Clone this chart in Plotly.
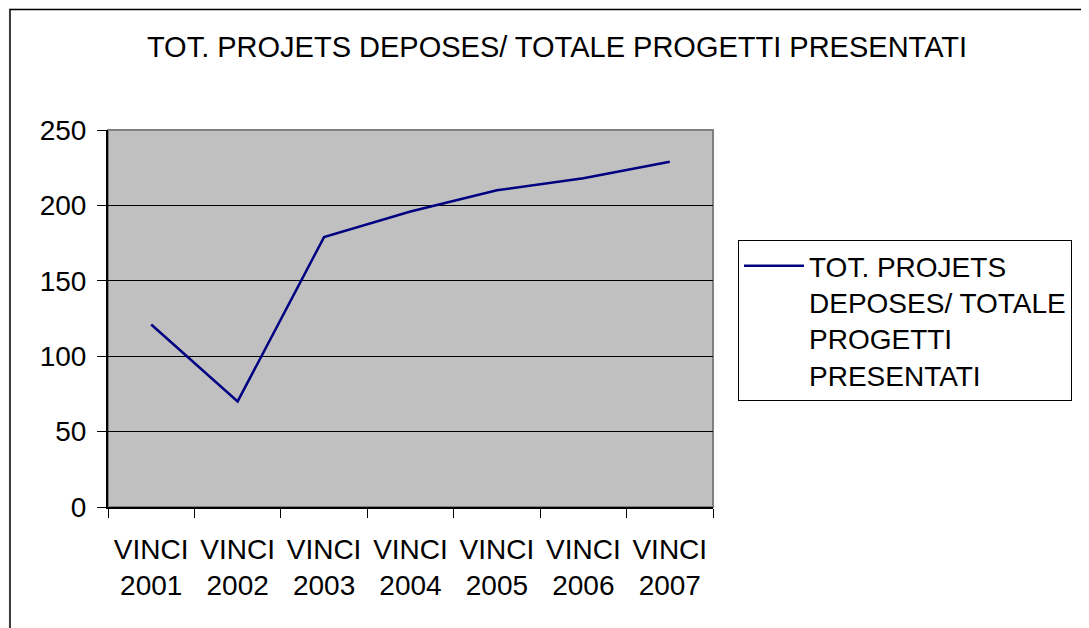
import plotly.graph_objects as go

categories = ["VINCI<br>2001", "VINCI<br>2002", "VINCI<br>2003", "VINCI<br>2004",
              "VINCI<br>2005", "VINCI<br>2006", "VINCI<br>2007"]
values = [121, 70, 179, 196, 210, 218, 229]
series_name = "TOT. PROJETS<br>DEPOSES/ TOTALE<br>PROGETTI<br>PRESENTATI"
title_text = "TOT. PROJETS DEPOSES/ TOTALE PROGETTI PRESENTATI"

OFF = 8  # default page body margin
WIN_W, WIN_H = 1089, 628
W, H = WIN_W - OFF, WIN_H - OFF
# plot area in window pixels
PX0, PX1, PY0, PY1 = 108, 713, 130, 507
L, R, T, B = PX0 - OFF, WIN_W - PX1, PY0 - OFF, WIN_H - PY1
pw, ph = PX1 - PX0, PY1 - PY0

def px_x(x):
    return (x - PX0) / pw

def px_y(y):
    return (PY1 - y) / ph

FONT = "Arial, Liberation Sans, sans-serif"

fig = go.Figure()
fig.add_trace(go.Scatter(
    x=categories, y=values, mode="lines", name=series_name,
    line=dict(color="#000080", width=2.5),
))

fig.update_layout(
    width=W, height=H,
    margin=dict(l=L, r=R, t=T, b=B, autoexpand=False),
    paper_bgcolor="#f3f6f0",
    plot_bgcolor="#c0c0c0",
    font=dict(family=FONT, size=28, color="#000000"),
    title=dict(text=title_text, x=(557 - OFF) / W, xanchor="center", xref="container",
               y=1 - (47 - OFF) / H, yanchor="middle", yref="container",
               font=dict(family=FONT, size=29, color="#000000")),
    showlegend=True,
    legend=dict(x=px_x(738), y=px_y(240), xanchor="left", yanchor="top",
                bgcolor="#ffffff", bordercolor="#000000", borderwidth=1,
                font=dict(family=FONT, size=28, color="#000000"),
                valign="top", itemwidth=60, tracegroupgap=0),
    xaxis=dict(type="category", range=[-0.5, len(categories) - 0.5],
               tickson="boundaries", ticks="outside", ticklen=9,
               tickcolor="#000000", showline=True, linecolor="#000000", linewidth=2,
               showgrid=False, ticklabelstandoff=16,
               tickfont=dict(family=FONT, size=28, color="#000000"),
               fixedrange=True),
    yaxis=dict(range=[0, 250], dtick=50, tick0=0, ticks="outside", ticklen=9,
               tickcolor="#000000", showline=True, linecolor="#000000", linewidth=2,
               showgrid=True, gridcolor="#000000", gridwidth=1, zeroline=False,
               ticklabelstandoff=5,
               tickfont=dict(family=FONT, size=28, color="#000000"),
               fixedrange=True),
    shapes=[
        dict(type="rect", xref="paper", yref="paper", layer="below",
             x0=px_x(10), x1=px_x(WIN_W + 20), y0=px_y(WIN_H + 20), y1=px_y(9.5),
             fillcolor="#ffffff", line=dict(color="#000000", width=1.5)),
        dict(type="rect", xref="paper", yref="paper", layer="below",
             x0=0, x1=1, y0=0, y1=1,
             fillcolor="#c0c0c0", line=dict(color="#808080", width=2)),
    ],
)

fig.write_html("out.html")
